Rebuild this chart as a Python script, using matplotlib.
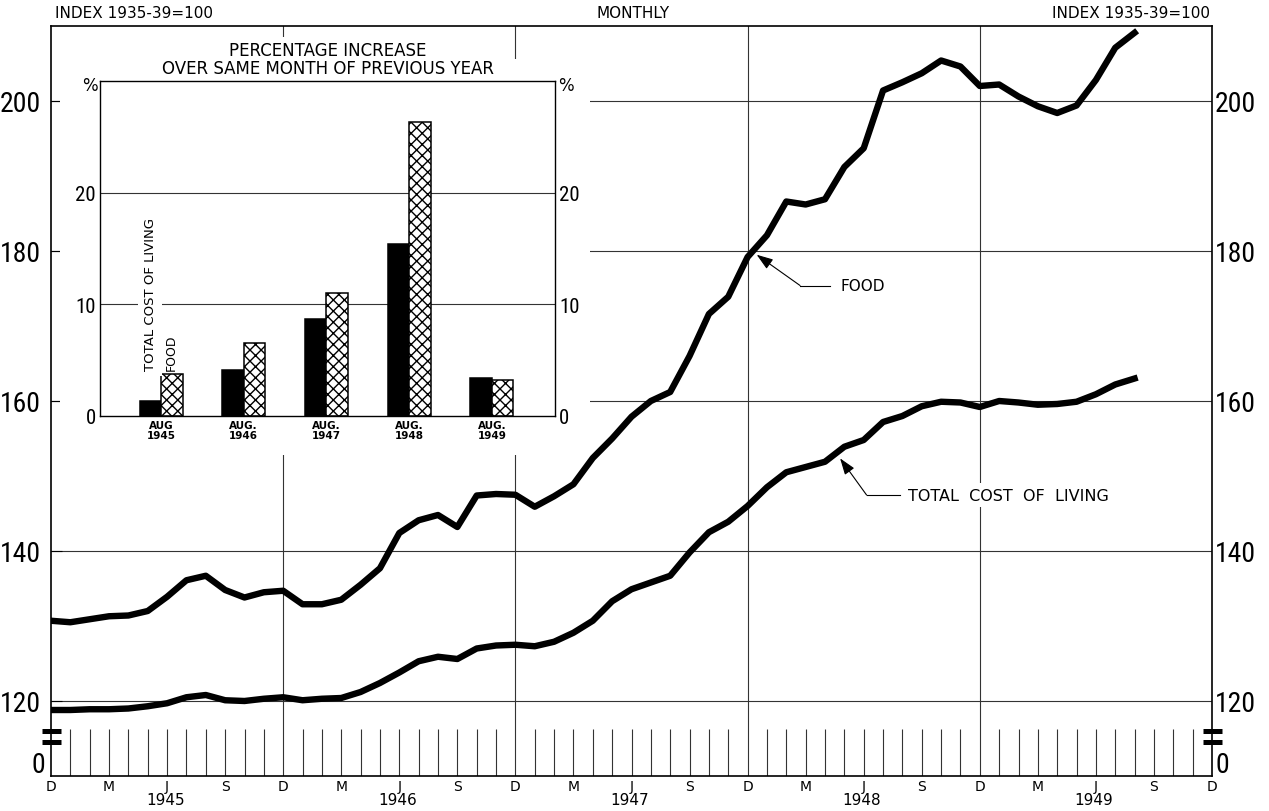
import numpy as np
import matplotlib
matplotlib.use('Agg')
import matplotlib.pyplot as plt
from matplotlib import font_manager
from matplotlib.patches import Rectangle

# monthly index 1935-39=100, Dec 1944 .. Aug 1949
food = [130.7, 130.5, 130.9, 131.3, 131.4, 132.0, 133.9, 136.1, 136.7, 134.8,
        133.8, 134.5, 134.7, 132.9, 132.9, 133.5, 135.5, 137.7, 142.4, 144.1,
        144.8, 143.2, 147.4, 147.6, 147.5, 145.9, 147.3, 148.9, 152.4, 155.0,
        157.9, 160.0, 161.2, 166.0, 171.6, 173.9, 179.2, 182.1, 186.6, 186.2,
        186.9, 191.2, 193.7, 201.4, 202.5, 203.7, 205.4, 204.6, 202.0, 202.2,
        200.6, 199.3, 198.4, 199.4, 202.8, 207.1, 209.1]
living = [118.8, 118.8, 118.9, 118.9, 119.0, 119.3, 119.7, 120.5, 120.8, 120.1,
          120.0, 120.3, 120.5, 120.1, 120.3, 120.4, 121.2, 122.4, 123.8, 125.3,
          125.9, 125.6, 127.0, 127.4, 127.5, 127.3, 127.9, 129.1, 130.7, 133.3,
          134.9, 135.8, 136.7, 139.8, 142.5, 143.9, 146.0, 148.5, 150.5, 151.2,
          151.9, 153.9, 154.8, 157.2, 158.0, 159.3, 159.9, 159.8, 159.2, 160.0,
          159.8, 159.5, 159.6, 159.9, 160.9, 162.2, 163.0]
months = np.arange(len(food))

years = ['1945', '1946', '1947', '1948', '1949']
month_letters = ['D', 'M', 'J', 'S']
index_ticks = [120, 140, 160, 180, 200]

# inset: % increase over same month of previous year
bar_labels = ['AUG\n1945', 'AUG.\n1946', 'AUG.\n1947', 'AUG.\n1948', 'AUG.\n1949']
living_pct = [1.3, 4.1, 8.7, 15.4, 3.4]
food_pct = [3.8, 6.5, 11.0, 26.3, 3.2]
pct_ticks = [0, 10, 20]

# narrow face for the big numbers, whatever is installed
fonts = font_manager.fontManager.ttflist
names = {f.name for f in fonts}
num_kw = dict(family='DejaVu Sans')
big, mid = 17, 13
for c in ['Liberation Sans Narrow', 'Roboto Condensed', 'Open Sans Condensed',
          'Noto Sans Condensed', 'DejaVu Sans Condensed']:
    if c in names:
        num_kw = dict(family=c)
        big, mid = 20, 15
        break
else:
    cond = [f for f in fonts if f.stretch in ('condensed', 'semi-condensed')]
    if cond:
        num_kw = dict(family=cond[0].name, stretch='condensed')
        big, mid = 18.5, 14
plt.rcParams['font.family'] = 'DejaVu Sans'

W, H = 1269, 812
def fx(px):
    return px / W
def fy(py):
    return 1 - py / H

fig = plt.figure(figsize=(W / 100, H / 100), dpi=100)
ax = fig.add_axes([fx(51), fy(777), fx(1212) - fx(51), fy(27) - fy(777)])
ax.set_xlim(0, 60)
ax.set_ylim(110, 210)
for s in ax.spines.values():
    s.set_linewidth(1.2)

grid_kw = dict(color='#333333', lw=0.8, zorder=1)
for v in index_ticks:
    ax.axhline(v, **grid_kw)
for m in range(12, 60, 12):
    ax.axvline(m, **grid_kw)
small = [m for m in range(1, 60) if m % 12 != 0]
ax.vlines(small, 110, 116.3, color='#333333', lw=0.8, zorder=1)

# white area behind the inset chart
ax.add_patch(Rectangle((fx(60), fy(456)), fx(590) - fx(60), fy(60) - fy(456),
                       transform=fig.transFigure, facecolor='white',
                       edgecolor='none', zorder=2))
ax.add_patch(Rectangle((fx(140), fy(60)), fx(505) - fx(140), fy(38) - fy(60),
                       transform=fig.transFigure, facecolor='white',
                       edgecolor='none', zorder=2))

ax.plot(months, food, color='black', lw=4.6, solid_joinstyle='round', zorder=4)
ax.plot(months, living, color='black', lw=4.6, solid_joinstyle='round', zorder=4)

ax.set_yticks(index_ticks)
ax.set_yticklabels([str(v) for v in index_ticks], fontsize=big, **num_kw)
ax.tick_params(axis='y', direction='in', length=8, width=0.8, pad=7)
ax.set_xticks(range(0, 61, 3))
ax.set_xticklabels(month_letters * 5 + ['D'], fontsize=10)
ax.tick_params(axis='x', length=0, pad=2)
ax.text(-0.3, 111.5, '0', ha='right', va='center', fontsize=big, **num_kw)
for i, y in enumerate(years):
    ax.text(5.9 + 12 * i, 106.9, y, ha='center', va='center', fontsize=11,
            clip_on=False)

axr = ax.twinx()
axr.set_ylim(ax.get_ylim())
axr.set_yticks(index_ticks)
axr.set_yticklabels([str(v) for v in index_ticks], fontsize=big, **num_kw)
axr.tick_params(axis='y', direction='in', length=0, pad=2)
axr.text(60.2, 111.5, '0', ha='left', va='center', fontsize=big, **num_kw)
for s in axr.spines.values():
    s.set_visible(False)

# broken axis marks
for xb in (0, 60):
    for yb in (116.0, 114.6):
        ax.plot([xb - 0.45, xb + 0.5], [yb, yb], color='black', lw=3.6,
                solid_capstyle='butt', clip_on=False, zorder=5)

# labels with arrows
ax.plot([38.71, 40.26], [175.4, 175.4], color='black', lw=0.8, zorder=3)
ax.annotate('', xy=(36.47, 179.5), xytext=(38.71, 175.4),
            arrowprops=dict(arrowstyle='-|>,head_length=1.0,head_width=0.35',
                            color='black', lw=0.8, shrinkA=0, shrinkB=0), zorder=5)
ax.text(40.78, 175.4, 'FOOD', ha='left', va='center', fontsize=11, zorder=3)
ax.plot([42.15, 43.87], [147.46, 147.46], color='black', lw=0.8, zorder=3)
ax.annotate('', xy=(40.78, 152.35), xytext=(42.15, 147.46),
            arrowprops=dict(arrowstyle='-|>,head_length=1.0,head_width=0.35',
                            color='black', lw=0.8, shrinkA=0, shrinkB=0), zorder=5)
ax.text(44.3, 147.46, 'TOTAL  COST  OF  LIVING', ha='left', va='center',
        fontsize=11.5, zorder=3,
        bbox=dict(facecolor='white', edgecolor='none', pad=3))

fig.text(fx(55), fy(14), 'INDEX 1935-39=100', ha='left', va='center', fontsize=11)
fig.text(fx(633), fy(14), 'MONTHLY', ha='center', va='center', fontsize=11)
fig.text(fx(1210), fy(14), 'INDEX 1935-39=100', ha='right', va='center', fontsize=11)

# inset bar chart
ax2 = fig.add_axes([fx(100), fy(417), fx(555) - fx(100), fy(82) - fy(417)])
ax2.set_xlim(-0.738, 4.764)
ax2.set_ylim(0, 30)
for s in ax2.spines.values():
    s.set_linewidth(1.0)
for v in pct_ticks[1:]:
    ax2.axhline(v, color='#333333', lw=0.8, zorder=0.5)
idx = np.arange(len(bar_labels))
w = 0.26
ax2.bar(idx - w / 2, living_pct, w, color='black', edgecolor='black', lw=1.1, zorder=2)
ax2.bar(idx + w / 2, food_pct, w, color='white', edgecolor='black', lw=1.1,
        hatch='xxx', zorder=2)
ax2.set_xticks(idx)
ax2.set_xticklabels(bar_labels, fontsize=7.5, fontweight='bold', linespacing=1.0)
ax2.tick_params(axis='x', length=0, pad=3)
ax2.set_yticks(pct_ticks)
ax2.set_yticklabels([str(v) for v in pct_ticks], fontsize=mid, **num_kw)
ax2.tick_params(axis='y', length=0, pad=3, labelright=True)
ax2.text(-0.133, 4.1, 'TOTAL COST OF LIVING', rotation=90, ha='center', va='bottom',
         fontsize=9.5, zorder=3,
         bbox=dict(facecolor='white', edgecolor='none', pad=4))
ax2.text(0.127, 4.1, 'FOOD', rotation=90, ha='center', va='bottom', fontsize=9,
         zorder=3)
fig.text(fx(90), fy(86), '%', ha='center', va='center', fontsize=12)
fig.text(fx(566), fy(86), '%', ha='center', va='center', fontsize=12)
fig.text(fx(328), fy(60), 'PERCENTAGE INCREASE\nOVER SAME MONTH OF PREVIOUS YEAR',
         ha='center', va='center', fontsize=12, linespacing=1.05)

fig.savefig('out.png', dpi=100)
